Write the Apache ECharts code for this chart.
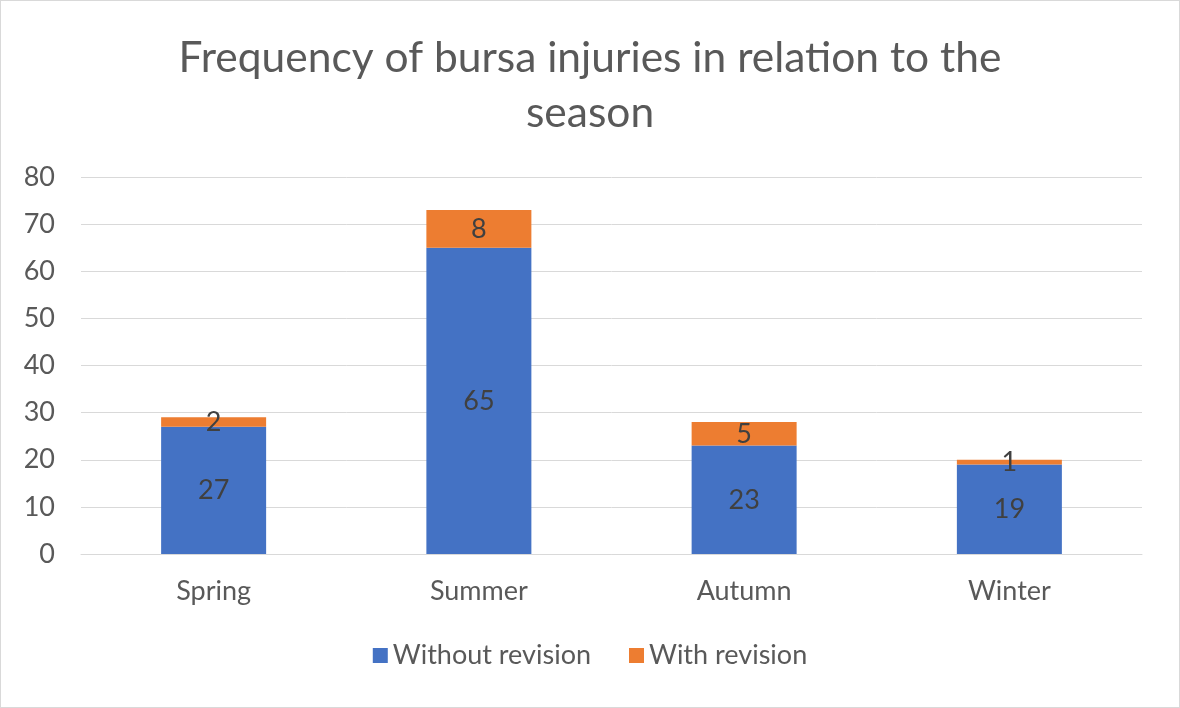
<!DOCTYPE html>
<html><head><meta charset="utf-8">
<script src="https://cdn.jsdelivr.net/npm/echarts@6/dist/echarts.min.js"></script>
<style>html,body{margin:0;padding:0;background:#fff}#c{width:1180px;height:708px;box-sizing:border-box;border:1px solid #d9d9d9}</style>
</head><body><div id="c"></div>
<script>
const categories = ['Spring', 'Summer', 'Autumn', 'Winter'];
const withoutRevision = [27, 65, 23, 19];
const withRevision = [2, 8, 5, 1];
const yTicks = [0, 10, 20, 30, 40, 50, 60, 70, 80];

const chart = echarts.init(document.getElementById('c'));
const font = 'Lato, Carlito, sans-serif';
const lbl = {show: true, position: 'inside', color: '#404040', fontSize: 27, fontFamily: font};
chart.setOption({
  animation: false,
  title: {
    text: 'Frequency of bursa injuries in relation to the\nseason',
    left: 'center', top: 25,
    textStyle: {fontSize: 42.5, fontWeight: 'normal', color: '#595959', fontFamily: font, lineHeight: 55}
  },
  legend: {
    bottom: 33, left: 'center', itemWidth: 15, itemHeight: 15, itemGap: 38,
    icon: 'rect',
    textStyle: {fontSize: 27, color: '#595959', fontFamily: font}
  },
  grid: {left: 80, right: 37, top: 176, bottom: 153, containLabel: false},
  xAxis: {
    type: 'category', data: categories,
    axisLine: {lineStyle: {color: '#d9d9d9', width: 1}},
    axisTick: {show: false},
    axisLabel: {fontSize: 27, color: '#595959', fontFamily: font, margin: 24}
  },
  yAxis: {
    type: 'value', min: yTicks[0], max: yTicks[yTicks.length - 1], interval: 10,
    axisLine: {show: false}, axisTick: {show: false},
    splitLine: {lineStyle: {color: '#d9d9d9', width: 1}},
    axisLabel: {fontSize: 27, color: '#595959', fontFamily: font, margin: 26}
  },
  series: [
    {name: 'Without revision', type: 'bar', stack: 's', data: withoutRevision, barWidth: 105,
     itemStyle: {color: '#4472C4'}, label: lbl},
    {name: 'With revision', type: 'bar', stack: 's', data: withRevision, barWidth: 105,
     itemStyle: {color: '#ED7D31'}, label: lbl}
  ]
});
</script></body></html>
